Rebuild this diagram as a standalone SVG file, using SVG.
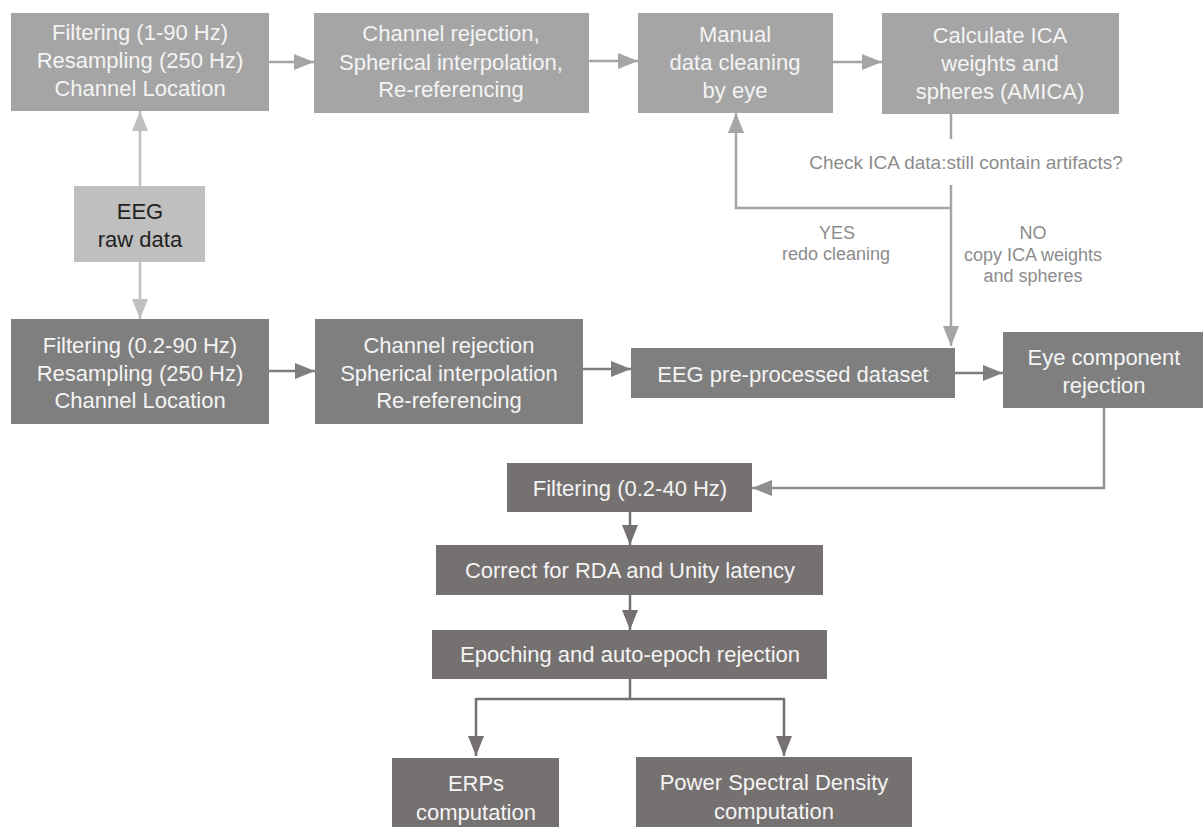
<svg xmlns="http://www.w3.org/2000/svg" width="1203" height="827" viewBox="0 0 1203 827">
<style>
text{font-family:"Liberation Sans",Arial,sans-serif;text-anchor:middle}
.bt{font-size:22px;fill:#f4f4f4}
.dk{font-size:22px;fill:#222}
.lb{font-size:18px;fill:#8c8c8c}
.ck{font-size:19px;fill:#8c8c8c}
.top{fill:#a5a5a5}
.raw{fill:#bfbfbf}
.mid{fill:#7f7f7f}
.low{fill:#767171}
.c1{fill:none;stroke:#a5a5a5;stroke-width:2.5}
.c0{fill:none;stroke:#bfbfbf;stroke-width:2.5}
.c2{fill:none;stroke:#7f7f7f;stroke-width:2.5}
.c3{fill:none;stroke:#767171;stroke-width:2.5}
.c4{fill:none;stroke:#8f8f8f;stroke-width:2.5}
</style>
<defs>
<marker id="a1" markerUnits="userSpaceOnUse" markerWidth="20" markerHeight="16" refX="20" refY="8" orient="auto"><path d="M0,0L20,8L0,16z" fill="#a5a5a5"/></marker>
<marker id="a0" markerUnits="userSpaceOnUse" markerWidth="20" markerHeight="16" refX="20" refY="8" orient="auto"><path d="M0,0L20,8L0,16z" fill="#bfbfbf"/></marker>
<marker id="a2" markerUnits="userSpaceOnUse" markerWidth="20" markerHeight="16" refX="20" refY="8" orient="auto"><path d="M0,0L20,8L0,16z" fill="#7f7f7f"/></marker>
<marker id="a3" markerUnits="userSpaceOnUse" markerWidth="20" markerHeight="16" refX="20" refY="8" orient="auto"><path d="M0,0L20,8L0,16z" fill="#767171"/></marker>
<marker id="a4" markerUnits="userSpaceOnUse" markerWidth="20" markerHeight="16" refX="20" refY="8" orient="auto"><path d="M0,0L20,8L0,16z" fill="#8f8f8f"/></marker>
</defs>
<rect width="1203" height="827" fill="#fff"/>
<g id="connectors">
<path class="c0" d="M140,186V111" marker-end="url(#a0)"/>
<path class="c0" d="M140,262V319" marker-end="url(#a0)"/>
<path class="c1" d="M269,62H314" marker-end="url(#a1)"/>
<path class="c1" d="M589,61H638" marker-end="url(#a1)"/>
<path class="c1" d="M833,62H882" marker-end="url(#a1)"/>
<path class="c1" d="M951,114V139"/>
<path class="c1" d="M951,185V346" marker-end="url(#a1)"/>
<path class="c1" d="M951,208H736V113" marker-end="url(#a1)"/>
<path class="c2" d="M269,371H315" marker-end="url(#a2)"/>
<path class="c2" d="M583,369H631" marker-end="url(#a2)"/>
<path class="c2" d="M955,373H1003" marker-end="url(#a2)"/>
<path class="c4" d="M1104,408V488H752" marker-end="url(#a4)"/>
<path class="c3" d="M630,512V545" marker-end="url(#a3)"/>
<path class="c3" d="M630,595V630" marker-end="url(#a3)"/>
<path class="c3" d="M630,679V699M476,699H784M476,698V756" marker-end="url(#a3)"/>
<path class="c3" d="M784,698V756" marker-end="url(#a3)"/>
<text class="ck" x="966" y="169">Check ICA data:still contain artifacts?</text>
<text class="lb" x="837" y="239">YES</text>
<text class="lb" x="836" y="260">redo cleaning</text>
<text class="lb" x="1033" y="239">NO</text>
<text class="lb" x="1033" y="261">copy ICA weights</text>
<text class="lb" x="1033" y="282">and spheres</text>
</g>
<g id="n_filter1">
<rect class="top" x="11" y="13" width="258" height="98"/>
<text class="bt" x="140" y="40">Filtering (1-90 Hz)</text>
<text class="bt" x="140" y="68">Resampling (250 Hz)</text>
<text class="bt" x="140" y="96">Channel Location</text>
</g>
<g id="n_chan1">
<rect class="top" x="314" y="13" width="275" height="100"/>
<text class="bt" x="451" y="41">Channel rejection,</text>
<text class="bt" x="451" y="70">Spherical interpolation,</text>
<text class="bt" x="451" y="97">Re-referencing</text>
</g>
<g id="n_manual">
<rect class="top" x="638" y="13" width="195" height="100"/>
<text class="bt" x="735" y="42">Manual</text>
<text class="bt" x="735" y="70">data cleaning</text>
<text class="bt" x="735" y="98">by eye</text>
</g>
<g id="n_ica">
<rect class="top" x="882" y="13" width="237" height="101"/>
<text class="bt" x="1000" y="43">Calculate ICA</text>
<text class="bt" x="1000" y="71">weights and</text>
<text class="bt" x="1000" y="99">spheres (AMICA)</text>
</g>
<g id="n_raw">
<rect class="raw" x="74" y="186" width="131" height="76"/>
<text class="dk" x="140" y="219">EEG</text>
<text class="dk" x="140" y="247">raw data</text>
</g>
<g id="n_filter2">
<rect class="mid" x="11" y="319" width="258" height="105"/>
<text class="bt" x="140" y="353">Filtering (0.2-90 Hz)</text>
<text class="bt" x="140" y="381">Resampling (250 Hz)</text>
<text class="bt" x="140" y="408">Channel Location</text>
</g>
<g id="n_chan2">
<rect class="mid" x="315" y="319" width="268" height="105"/>
<text class="bt" x="449" y="353">Channel rejection</text>
<text class="bt" x="449" y="381">Spherical interpolation</text>
<text class="bt" x="449" y="408">Re-referencing</text>
</g>
<g id="n_pre">
<rect class="mid" x="631" y="348" width="324" height="50"/>
<text class="bt" x="793" y="382">EEG pre-processed dataset</text>
</g>
<g id="n_eye">
<rect class="mid" x="1003" y="332" width="200" height="76"/>
<text class="bt" x="1104" y="365">Eye component</text>
<text class="bt" x="1104" y="393">rejection</text>
</g>
<g id="n_filter3">
<rect class="low" x="507" y="463" width="245" height="49"/>
<text class="bt" x="630" y="496">Filtering (0.2-40 Hz)</text>
</g>
<g id="n_correct">
<rect class="low" x="436" y="545" width="387" height="50"/>
<text class="bt" x="630" y="578">Correct for RDA and Unity latency</text>
</g>
<g id="n_epoch">
<rect class="low" x="432" y="630" width="395" height="49"/>
<text class="bt" x="630" y="662">Epoching and auto-epoch rejection</text>
</g>
<g id="n_erp">
<rect class="low" x="392" y="758" width="167" height="72"/>
<text class="bt" x="476" y="791">ERPs</text>
<text class="bt" x="476" y="820">computation</text>
</g>
<g id="n_psd">
<rect class="low" x="636" y="757" width="276" height="73"/>
<text class="bt" x="774" y="790">Power Spectral Density</text>
<text class="bt" x="774" y="819">computation</text>
</g>
</svg>
